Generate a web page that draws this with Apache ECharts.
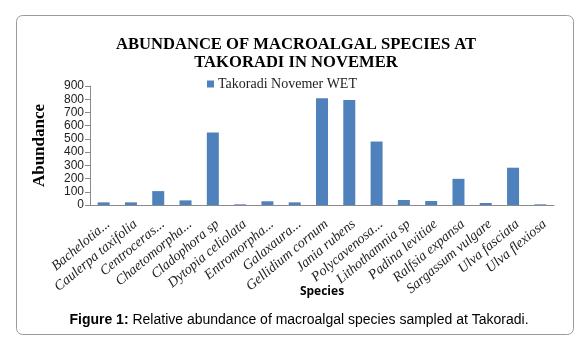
<!DOCTYPE html>
<html>
<head>
<meta charset="utf-8">
<script src="https://cdn.jsdelivr.net/npm/echarts@6/dist/echarts.min.js"></script>
<style>
  html, body { margin: 0; padding: 0; background: #fff; }
  #chart { width: 582px; height: 349px; }
</style>
</head>
<body>
<div id="chart"></div>
<script>
  const species = [
    'Bachelotia...', 'Caulerpa taxifolia', 'Centroceras...', 'Chaetomorpha...',
    'Cladophora sp', 'Dytopia celiolata', 'Entromorpha...', 'Galaxaura...',
    'Gellidium cornum', 'Jania rubens', 'Polycavenosa...', 'Lithothamnia sp',
    'Padina levitiae', 'Ralfsia expansa', 'Sargassum vulgare', 'Ulva fasciata',
    'Ulva flexiosa'
  ];
  const abundance = [20, 20, 105, 35, 548, 5, 28, 20, 808, 795, 480, 38, 30, 198, 15, 282, 5];
  const seriesName = 'Takoradi Novemer WET';

  const myChart = echarts.init(document.getElementById('chart'));

  const options = {
    animation: false,
    title: [
      {
        text: 'ABUNDANCE OF MACROALGAL SPECIES AT\nTAKORADI IN NOVEMER',
        left: 291,
        textAlign: 'center',
        top: 31,
        textStyle: {
          fontFamily: 'Liberation Serif',
          fontWeight: 'bold',
          fontSize: 16.6,
          lineHeight: 18,
          color: '#000'
        }
      },
      {
        text: '{b|Figure 1:} Relative abundance of macroalgal species sampled at Takoradi.',
        left: 294,
        textAlign: 'center',
        top: 308,
        textStyle: {
          fontFamily: 'Liberation Sans',
          fontSize: 14,
          fontWeight: 'normal',
          color: '#000',
          rich: {
            b: { fontFamily: 'Liberation Sans', fontSize: 14, fontWeight: 'bold', color: '#000' }
          }
        }
      }
    ],
    graphic: [
      {
        type: 'rect',
        shape: { x: 16.5, y: 15.5, width: 557, height: 319, r: 6 },
        style: { fill: 'none', stroke: '#9a9a9a', lineWidth: 1 },
        z: -1
      }
    ],
    legend: {
      data: [seriesName],
      left: 202,
      top: 72,
      itemWidth: 7,
      itemHeight: 7,
      itemGap: 4,
      icon: 'rect',
      textStyle: { fontFamily: 'Liberation Serif', fontSize: 14, color: '#222', padding: [0, 0, 0, -1] }
    },
    grid: { left: 90, right: 28, top: 86, bottom: 144 },
    xAxis: {
      type: 'category',
      data: species,
      name: 'Species',
      nameLocation: 'middle',
      nameGap: 81,
      nameMoveOverlap: false,
      nameTextStyle: { fontFamily: 'Open Sans', fontWeight: 'bold', fontSize: 12, color: '#000' },
      axisLine: { lineStyle: { color: '#8a8a8a' } },
      axisTick: { show: false },
      axisLabel: {
        interval: 0,
        rotate: 40,
        margin: 12,
        verticalAlign: 'top',
        fontFamily: 'Liberation Serif',
        fontStyle: 'italic',
        fontSize: 14,
        color: '#222'
      }
    },
    yAxis: {
      type: 'value',
      min: 0,
      max: 900,
      interval: 100,
      name: 'Abundance',
      nameLocation: 'middle',
      nameGap: 42,
      nameTextStyle: { fontFamily: 'Liberation Serif', fontWeight: 'bold', fontSize: 17, color: '#000' },
      axisLine: { show: true, lineStyle: { color: '#8a8a8a' } },
      axisTick: { show: true, length: 5, lineStyle: { color: '#8a8a8a' } },
      splitLine: { show: false },
      axisLabel: { fontFamily: 'Liberation Sans', fontSize: 12, color: '#222', margin: 6 }
    },
    series: [
      {
        name: seriesName,
        type: 'bar',
        data: abundance,
        barWidth: 12,
        itemStyle: { color: '#4F81BD' }
      }
    ]
  };

  myChart.setOption(options);
</script>
</body>
</html>
